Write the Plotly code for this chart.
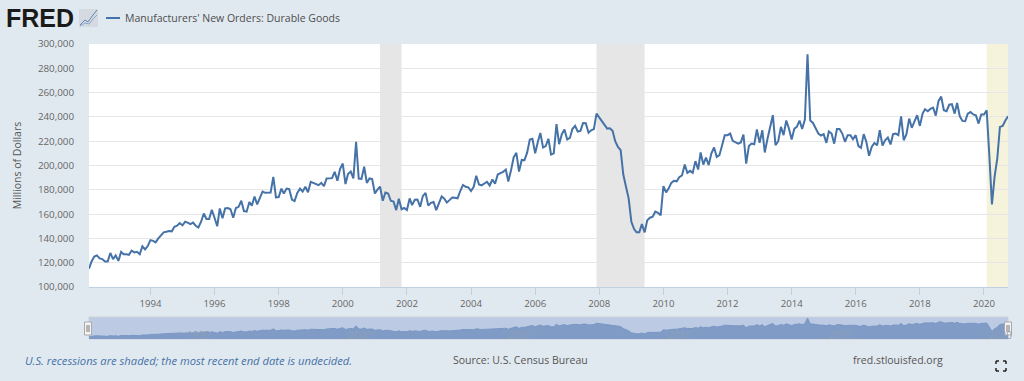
import plotly.graph_objects as go
import pandas as pd

orders_k = [
115,121,125,126,123.5,123,121,121,128,123,126,
121.5,129,127,127,126.5,130,128.5,129,127,133.5,131,133.7,
138.6,138,136.7,140,142.7,145,145.5,146,145.8,149.6,150.4,152.6,
150.7,153.7,153,151.8,153,150.4,149,153.7,160.5,156,156,163.5,
157,150,164.7,156.5,164.7,165,164,157,165,166,171,162.5,
162,170,167,174.5,168,174,178.6,177.5,177.5,177.8,190.7,173.7,
174,181,177,181,180.5,172,170.7,177.5,181,178.6,182.5,178,
186.6,185.7,185,183.8,185.7,183,189.3,189.6,189.6,194.8,187.4,197,
201.6,184.7,193,195,189.3,219.5,189.3,189,199,185.7,189.3,188.8,
177,180.3,182.5,171,177.8,177,171,170.4,163.3,172.6,164,165,
163.3,172.9,167.4,171.8,172,166,174.8,177.5,167,169.3,170,163.3,
169.3,174.5,172.9,169.6,171.5,173.7,173.4,173,179,184,182.5,182,
179,182.5,191.5,184.4,183.6,185.5,186.6,183.6,188.5,185,192.6,193.7,
194.8,196.7,186.8,196,206.6,210.4,195,204.6,204.4,210.4,221.4,222,
210,219.5,226.8,214.8,216,222,209,210,234,217.5,225.8,229.6,
221.4,222.7,230,232.6,228,228.5,235,234.8,227,229,230,242.7,
239.5,236,233,230.4,230.7,228.5,220,215.3,212.6,192.6,182.5,173,
153.7,147.7,145,145,151.8,145,155,157,157.8,162,161,159,
183,177.8,181,185.7,187.4,187,190.4,191.8,200.8,194,195.6,194,
203.6,196.7,210.7,200.8,206.6,200.3,209.9,214.8,207,208.5,216.7,225,
225,226.3,220.3,219,218,219,225.5,201.6,216,218,217.5,229.6,
218.6,229,210.7,222,231.8,241.4,216.7,220,231.8,225,237,230.4,
221.4,230.4,231.8,237,230,237.8,291.5,237,235,230.4,226.3,224.7,
225.8,218.6,228,226.3,218,230,230,226.3,219.5,225,225,221.6,
225,216,214.5,225.8,219.5,208,215.3,218.6,216.7,229,216.4,220.8,
223,217.3,225.8,226.3,225,240.5,220.8,225.8,238.6,231,236,241.4,
232.6,242.7,246.3,244.7,246.6,247.7,241,253,256.7,245.5,244.7,250,
250.4,242.7,251.5,240.5,236.7,236.4,242.7,244,242,241.4,234.5,242,
242,245.5,210,168,190.7,205.8,231.8,232.6,237,240.5,
]
first_month = "1992-02-01"
series_name = "Manufacturers' New Orders: Durable Goods"
axis_title = "Millions of Dollars"
dates = pd.date_range(first_month, periods=len(orders_k), freq="MS")
orders = [v * 1000 for v in orders_k]

year_ticks = list(range(1994, 2022, 2))
y_ticks = list(range(100000, 320000, 20000))
nav_years = [1995, 2000, 2005, 2010, 2015, 2020]
grey_recessions = [("2001-03-01", "2001-11-01"), ("2007-12-01", "2009-06-01")]
open_recession = ("2020-02-01", "2020-10-01")

W, H = 1024, 381
L, R, T, B = 89, 1008, 44, 339
def px(x): return (x - L) / (R - L)
def py(y): return (B - y) / (B - T)

BG = "#e1e9f0"
BLUE = "#4572a7"
FONT = "Open Sans"
x_end = dates[-1]

fig = go.Figure()
fig.add_trace(go.Scatter(x=dates, y=orders, mode="lines", name=series_name,
                         line=dict(color=BLUE, width=2), xaxis="x", yaxis="y", showlegend=False))
fig.add_trace(go.Scatter(x=dates, y=orders, mode="lines", name="navigator",
                         line=dict(color="#7a97c4", width=1), fill="tozeroy", fillcolor="#7f9bc6",
                         xaxis="x2", yaxis="y2", showlegend=False, hoverinfo="skip"))

shapes = []
shapes.append(dict(type="rect", xref="paper", yref="paper", x0=0, x1=1, y0=0, y1=py(317),
                   fillcolor="#bccbe3", line=dict(color="#c9d0da", width=1), layer="below"))
for a, b in grey_recessions:
    shapes.append(dict(type="rect", xref="x", yref="y domain", x0=a, x1=b, y0=0, y1=1,
                       fillcolor="#e6e6e6", line_width=0, layer="below"))
shapes.append(dict(type="rect", xref="x", yref="y domain", x0=open_recession[0], x1=open_recession[1],
                   y0=0, y1=1, fillcolor="#f5f3dc", line_width=0, layer="below"))

def prect(x0, y0, x1, y1, **kw):
    shapes.append(dict(type="rect", xref="paper", yref="paper", x0=px(x0), x1=px(x1),
                       y0=py(y0), y1=py(y1), **kw))
def pline(x0, y0, x1, y1, color, width=1):
    shapes.append(dict(type="line", xref="paper", yref="paper", x0=px(x0), x1=px(x1),
                       y0=py(y0), y1=py(y1), line=dict(color=color, width=width)))

# legend key
pline(106, 18, 120, 18, BLUE, 2)
# FRED icon
prect(79, 9, 98, 27, fillcolor="#d5dae0", line_width=0)
for pts, c in (([(80,25),(85,20),(88,22),(93,15),(97,10)], "#5f86b8"),
               ([(80,26),(85,23),(89,24),(93,19),(97,15)], "#8aa5c8")):
    for (a, b), (c2, d) in zip(pts, pts[1:]):
        pline(a, b, c2, d, c, 1)
# navigator handles
for hx in (88, 1008):
    prect(hx - 3.5, 322, hx + 3.5, 335, fillcolor="#f4f4f4", line=dict(color="#a9a9a9", width=1))
    pline(hx - 1, 325, hx - 1, 332, "#777777")
    pline(hx + 1, 325, hx + 1, 332, "#777777")
# fullscreen icon
for (a, b, c2, d) in [(996,361,999,361),(996,361,996,364),(1003,361,1006,361),(1006,361,1006,364),
                      (996,371,999,371),(996,368,996,371),(1003,371,1006,371),(1006,368,1006,371)]:
    pline(a, b, c2, d, "#222222", 1.5)

def note(text, x, y, size=11, color="#555555", anchor="left", **kw):
    return dict(text=text, xref="paper", yref="paper", x=px(x), y=py(y), showarrow=False,
                xanchor=anchor, yanchor="middle", font=dict(family=FONT, size=size, color=color), **kw)

ann = [
    note("<b>FRED</b>", 4, 18, size=25, color="#1a1a1a"),
    note(series_name, 123, 18, size=10.5, color="#4d4d4d"),
    note("<i>U.S. recessions are shaded; the most recent end date is undecided.</i>", 23, 360, size=11.2, color=BLUE),
    note("Source: U.S. Census Bureau", 451, 360, size=10.5),
    note("fred.stlouisfed.org", 851, 360, size=10.5),
]
ann[0]["font"]["family"] = "Liberation Sans"
for yr in nav_years:
    ann.append(dict(text=str(yr), xref="x2", yref="y2", x=f"{yr}-01-01", xshift=3, y=130000, showarrow=False,
                    xanchor="left", yanchor="middle", font=dict(family=FONT, size=10, color="#8f9fb8")))

fig.update_layout(
    width=W, height=H, autosize=False,
    margin=dict(l=L, r=W - R, t=T, b=H - B, pad=0),
    paper_bgcolor=BG, plot_bgcolor="white", shapes=shapes, annotations=ann, showlegend=False,
    font=dict(family=FONT, color="#666666", size=11),
    xaxis=dict(domain=[0, 1], range=[dates[0], x_end], anchor="y",
               tickvals=[f"{y}-01-01" for y in year_ticks], ticktext=[str(y) for y in year_ticks],
               ticks="outside", ticklen=7, tickcolor="#c0d0e0", tickwidth=1,
               showline=True, linecolor="#c0d0e0", showgrid=False, zeroline=False,
               tickfont=dict(family=FONT, size=9.6, color="#666666")),
    yaxis=dict(domain=[py(287), 1], range=[100000, 300000], anchor="x",
               tickvals=y_ticks, ticktext=[f"{v:,}" for v in y_ticks],
               showgrid=True, gridcolor="#e6e6e6", gridwidth=1, zeroline=False, showline=False,
               ticks="outside", ticklen=12, tickcolor="rgba(0,0,0,0)",
               tickfont=dict(family=FONT, size=9.8, color="#666666"),
               title=dict(text=axis_title, standoff=14, font=dict(family=FONT, size=10.5, color="#555555"))),
    xaxis2=dict(domain=[0, 1], range=[dates[0], x_end], anchor="y2", visible=False),
    yaxis2=dict(domain=[0, py(317)], range=[96000, 301000], anchor="x2", visible=False),
)
fig.write_html("out.html", config={"displayModeBar": False},
               post_script="document.body.style.margin='0';document.body.style.overflow='hidden';document.body.style.background='%s';" % BG)
